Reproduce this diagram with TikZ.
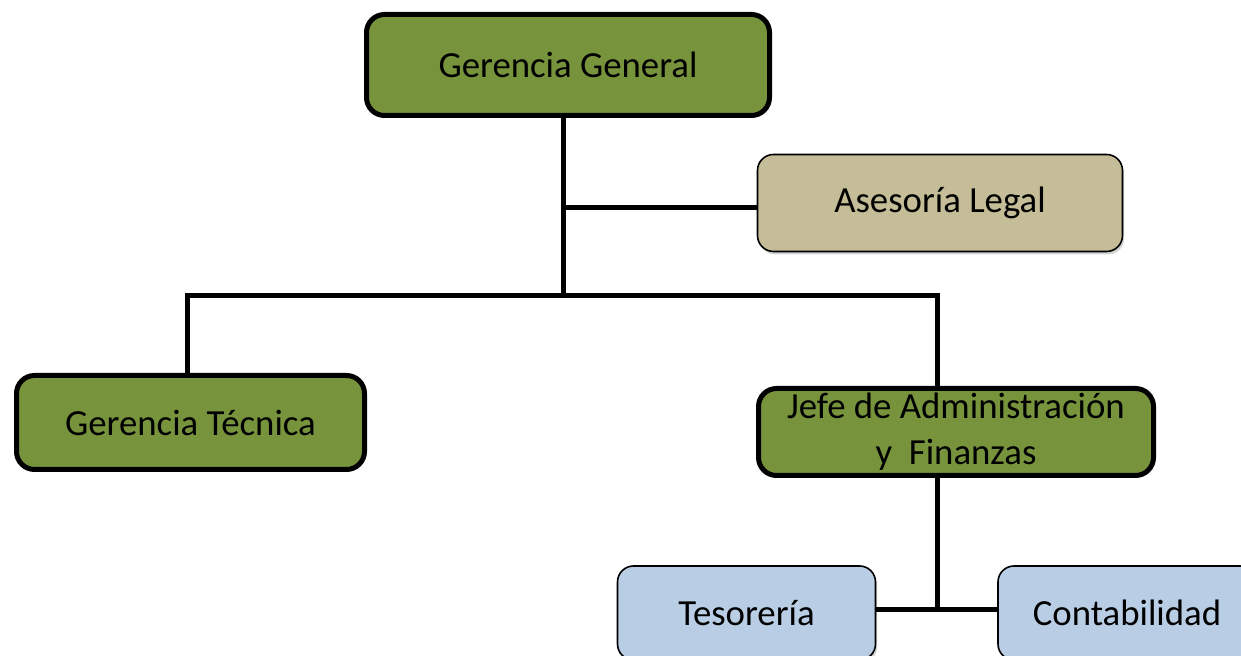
\documentclass[tikz,border=0pt]{standalone}
\usepackage{fontspec}
\setmainfont{Carlito}
\usetikzlibrary{shadows}
\definecolor{verde}{HTML}{77933C}
\definecolor{arena}{HTML}{C4BD97}
\definecolor{celeste}{HTML}{B9CDE5}
\begin{document}
\begin{tikzpicture}[x=0.5pt, y=-0.5pt, line join=miter, font=\fontsize{18.4}{23}\selectfont]
	\tikzset{box/.style={draw=black, rounded corners=9pt, align=center, inner sep=0pt},
		mainbox/.style={box, fill=verde, line width=2.5pt},
		subbox/.style={box, line width=0.8pt, rounded corners=8pt, drop shadow={opacity=0.35, shadow xshift=0.8pt, shadow yshift=-1.5pt}},
		conn/.style={line width=2.5pt}}
	\useasboundingbox (0,0) rectangle (1241,656);
	\clip (0,0) rectangle (1241,656);
	% cajas
	\node[mainbox, minimum width=201.5pt, minimum height=50.5pt] (gg) at (568,65) {Gerencia General};
	\node[subbox, fill=arena, minimum width=182.5pt, minimum height=48.5pt] (al) at (940,203) {Asesoría Legal};
	\node[mainbox, minimum width=174pt, minimum height=47pt] (gt) at (190.5,422.5) {Gerencia Técnica};
	\node[mainbox, minimum width=197.5pt, minimum height=43.5pt] (jaf) at (956,432) {Jefe de Administración\\y\ \ Finanzas};
	\node[subbox, fill=celeste, minimum width=129pt, minimum height=47pt] (tes) at (746.5,613) {Tesorería};
	\node[subbox, fill=celeste, minimum width=129pt, minimum height=47pt] (con) at (1127,613) {Contabilidad};
	% lineas
	\coordinate (trunk) at (563,296);
	\coordinate (legal) at (563,208);
	\coordinate (izq) at (187,296);
	\coordinate (der) at (937,296);
	\coordinate (fin) at (937,610);
	\draw[conn] (gg.south -| trunk) -- (trunk);
	\draw[conn] (legal) -- (legal -| al.west);
	\draw[conn] (gt.north -| izq) |- (der) -- (jaf.north -| der);
	\draw[conn] (jaf.south -| fin) -- (fin);
	\draw[conn] (tes.east |- fin) -- (con.west |- fin);
\end{tikzpicture}
\end{document}
